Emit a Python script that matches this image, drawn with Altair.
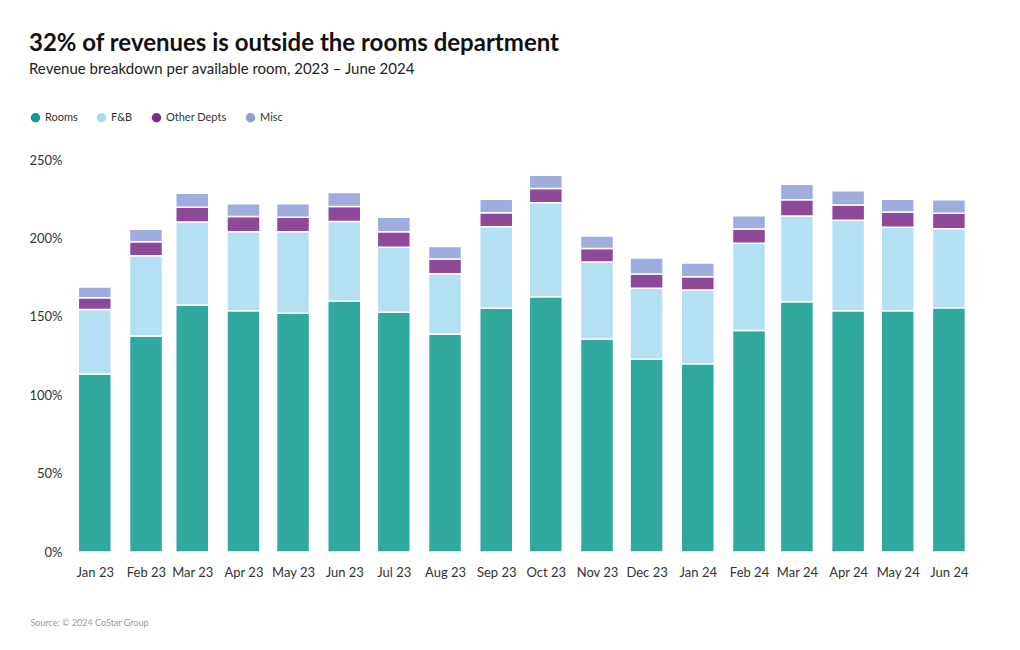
import altair as alt
import pandas as pd

months = ["2023-01-01","2023-02-01","2023-03-01","2023-04-01","2023-05-01","2023-06-01",
          "2023-07-01","2023-08-01","2023-09-01","2023-10-01","2023-11-01","2023-12-01",
          "2024-01-01","2024-02-01","2024-03-01","2024-04-01","2024-05-01","2024-06-01"]
rooms = [113.5,137.8,157.5,153.9,152.2,160.1,152.9,138.8,155.4,162.8,135.8,123.0,120.0,141.2,159.6,153.9,153.9,155.8]
fnb   = [41.2,51.2,53.0,50.4,52.1,50.6,41.4,38.7,52.1,60.0,49.2,45.2,47.1,55.7,54.7,57.6,53.2,50.4]
other = [7.4,8.9,9.3,9.6,9.2,9.6,10.0,9.4,8.9,9.1,8.5,9.1,8.5,9.1,10.4,9.8,9.7,9.8]
misc  = [6.9,7.9,9.0,8.2,8.6,8.9,9.2,7.9,8.5,8.3,8.0,10.2,8.7,8.5,9.8,9.1,8.1,8.7]

categories = ["Rooms", "F&B", "Other Depts", "Misc"]
colors = ["#0e9a8e", "#a8dbf2", "#7b2a8a", "#8e9fd8"]

rows = []
for series, vals in zip(categories, [rooms, fnb, other, misc]):
    for i, (m, v) in enumerate(zip(months, vals)):
        rows.append({"month": m, "category": series, "value": v / 100.0,
                     "order": categories.index(series)})
df = pd.DataFrame(rows)

FONT = "Lato"

chart = alt.Chart(df).mark_bar(size=33, opacity=0.85, stroke="white", strokeWidth=1.5).encode(
    x=alt.X("month:T",
            scale=alt.Scale(type="utc", padding=0,
                            domain=[alt.DateTime(year=2022, month=12, date=17, utc=True),
                                    alt.DateTime(year=2024, month=6, date=18, utc=True)]),
            axis=alt.Axis(labelExpr="utcFormat(datum.value, '%b %y')",
                          tickCount={"interval": "month", "step": 1},
                          ticks=False, domain=False, grid=False,
                          labelFontSize=13, labelColor="#333333", labelFont=FONT,
                          labelPadding=14, labelOverlap=False,
                          title="Source: © 2024 CoStar Group",
                          titleFont=FONT, titleFontSize=9, titleFontWeight="normal",
                          titleColor="#999999", titleAnchor="start", titleAlign="left",
                          titleX=-40, titleY=66)),
    y=alt.Y("value:Q", stack="zero",
            scale=alt.Scale(domain=[0, 2.5], nice=False),
            axis=alt.Axis(format=".0%", values=[0, 0.5, 1.0, 1.5, 2.0, 2.5],
                          ticks=False, domain=False, grid=False,
                          labelFontSize=13, labelColor="#333333", labelFont=FONT,
                          labelPadding=8, minExtent=40, maxExtent=40, title=None)),
    color=alt.Color("category:N",
                    scale=alt.Scale(domain=categories, range=colors),
                    legend=alt.Legend(title=None, orient="none", legendX=-40, legendY=-48,
                                      direction="horizontal", symbolType="circle",
                                      symbolSize=90, symbolOpacity=1, symbolStrokeWidth=0,
                                      labelFont=FONT, labelFontSize=11, labelColor="#333333",
                                      columnPadding=18, labelOffset=4)),
    order=alt.Order("order:Q", sort="ascending"),
).properties(
    width=907,
    height=392,
    padding={"left": 20, "top": 24, "right": 10, "bottom": 10},
    title=alt.TitleParams(
        text="32% of revenues is outside the rooms department",
        subtitle="Revenue breakdown per available room, 2023 – June 2024",
        anchor="start", frame="bounds", font=FONT, fontSize=24, fontWeight="bold",
        color="#111111", subtitleFont=FONT, subtitleFontSize=15, subtitleColor="#222222",
        subtitlePadding=6, offset=35),
).configure_view(stroke=None)

chart.save("out.html", embed_options={"renderer": "svg", "actions": False})
